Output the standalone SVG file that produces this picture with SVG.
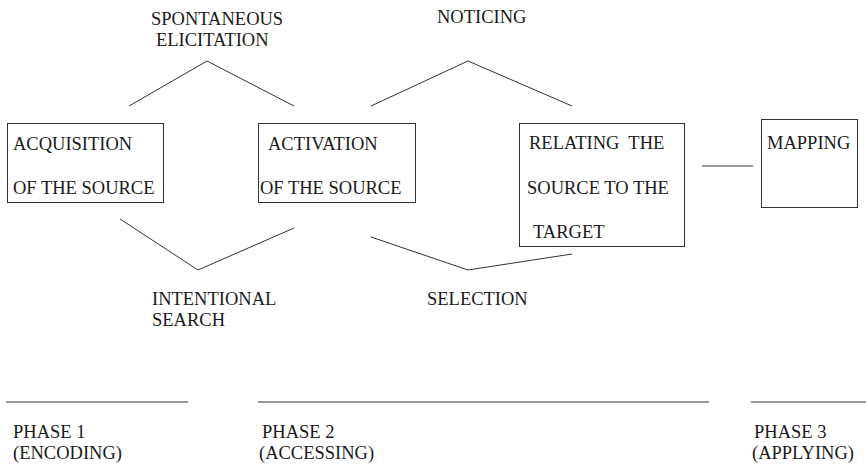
<svg xmlns="http://www.w3.org/2000/svg" width="866" height="467" viewBox="0 0 866 467">
<style>
text{font-family:"Liberation Serif","Times New Roman",serif;font-size:18.5px;fill:#1a1a1a;white-space:pre}
.box{fill:none;stroke:#333;stroke-width:1}
.ln{fill:none;stroke:#333;stroke-width:1}
</style>
<rect width="866" height="467" fill="#fff"/>
<g id="connectors">
<polyline class="ln" points="129,106 207,61 294,106"/>
<polyline class="ln" points="371,106 468,61 572,106"/>
<polyline class="ln" points="120,219 198,270 294,228"/>
<polyline class="ln" points="371,237 468,270 572,254"/>
<line class="ln" x1="702" y1="166" x2="753" y2="166"/>
</g>
<g id="label-spontaneous"><text x="151" y="25">SPONTANEOUS</text><text x="156" y="46">ELICITATION</text></g>
<g id="label-noticing"><text x="437" y="23">NOTICING</text></g>
<g id="label-intentional"><text x="152" y="305">INTENTIONAL</text><text x="152" y="326">SEARCH</text></g>
<g id="label-selection"><text x="427" y="305">SELECTION</text></g>
<g id="node-acquisition"><rect class="box" x="7.5" y="123.5" width="156" height="79"/><text x="13" y="150">ACQUISITION</text><text x="13" y="194">OF THE SOURCE</text></g>
<g id="node-activation"><rect class="box" x="258.5" y="123.5" width="157" height="79"/><text x="268" y="150">ACTIVATION</text><text x="260" y="194">OF THE SOURCE</text></g>
<g id="node-relating"><rect class="box" x="519.5" y="123.5" width="165" height="123"/><text x="529" y="149">RELATING  THE</text><text x="527" y="194">SOURCE TO THE</text><text x="533" y="238">TARGET</text></g>
<g id="node-mapping"><rect class="box" x="761.5" y="119.5" width="96" height="88"/><text x="767" y="149">MAPPING</text></g>
<g id="phases">
<line class="ln" x1="6" y1="402" x2="188" y2="402"/>
<line class="ln" x1="258" y1="402" x2="709" y2="402"/>
<line class="ln" x1="751" y1="402" x2="866" y2="402"/>
<text x="13" y="438">PHASE 1</text><text x="13" y="459">(ENCODING)</text>
<text x="262" y="438">PHASE 2</text><text x="259" y="459">(ACCESSING)</text>
<text x="754" y="438">PHASE 3</text><text x="752" y="459">(APPLYING)</text>
</g>
</svg>
